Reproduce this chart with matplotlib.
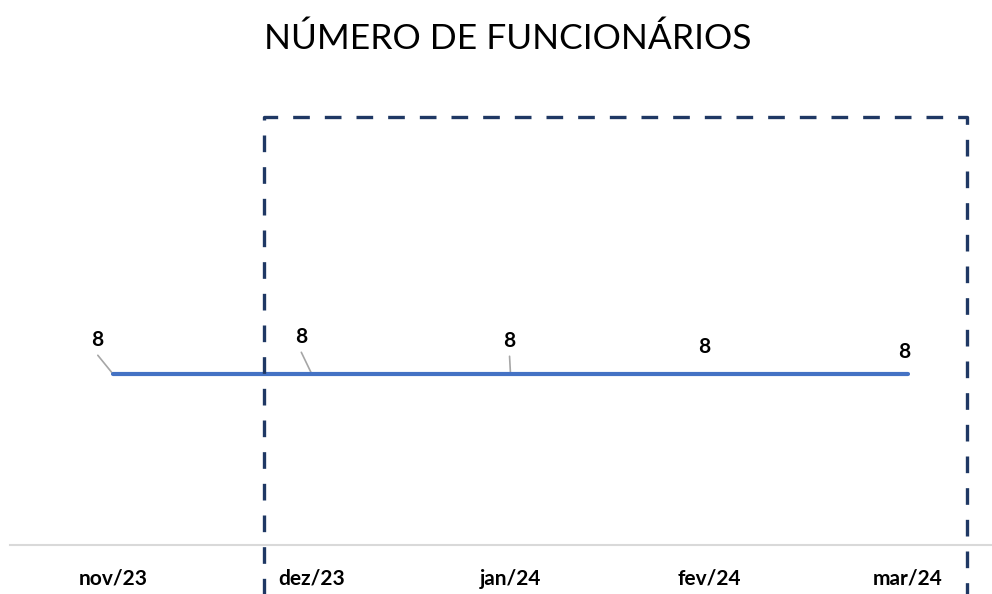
import matplotlib
matplotlib.use("Agg")
import matplotlib.pyplot as plt
from matplotlib.lines import Line2D

months = ["nov/23", "dez/23", "jan/24", "fev/24", "mar/24"]
funcionarios = [8, 8, 8, 8, 8]
title = "NÚMERO DE FUNCIONÁRIOS"

# label offsets (pixels) relative to each point, and whether a leader line is drawn
label_dx = [-16, -11, -1, -5, -4]
label_dy = [34, 37, 33, 27, 22]
leader = [True, True, True, False, False]

plt.rcParams['font.family'] = ['Lato', 'DejaVu Sans']

W, H = 992, 594
fig = plt.figure(figsize=(W / 100, H / 100), dpi=100)

# axes placement in pixels
ax_left, ax_right = 10, 992
ax_bottom_px, ax_top_px = 545, 90
ax = fig.add_axes([ax_left / W, 1 - ax_bottom_px / H,
                   (ax_right - ax_left) / W, (ax_bottom_px - ax_top_px) / H])

x = list(range(len(months)))
ax.plot(x, funcionarios, color="#4472C4", lw=3.0, solid_capstyle="round", zorder=3)

ppu = (908 - 113) / 4
ax.set_xlim(-(113 - ax_left) / ppu, 4 + (ax_right - 908) / ppu)
ypu = (545 - 374) / 8
ax.set_ylim(0, (ax_bottom_px - ax_top_px) / ypu)

for i, v in enumerate(funcionarios):
    dx, dy = label_dx[i] * 0.72, label_dy[i] * 0.72
    ax.annotate(str(v), xy=(i, v), xytext=(dx, dy), textcoords="offset points",
                ha="center", va="center", fontsize=15, fontweight="bold",
                color="#000000", zorder=4)
    if leader[i]:
        ax.annotate("", xy=(i, v), xytext=(dx * 0.95, dy - 11),
                    textcoords="offset points",
                    arrowprops=dict(arrowstyle="-", color="#A6A6A6", lw=1.2,
                                    shrinkA=0, shrinkB=0), zorder=2)

for s in ["top", "right", "left"]:
    ax.spines[s].set_visible(False)
ax.spines["bottom"].set_color("#D9D9D9")
ax.spines["bottom"].set_linewidth(1.5)
ax.set_yticks([])
ax.set_xticks(x)
ax.set_xticklabels(months, fontsize=15, fontweight="bold", color="#000000")
ax.tick_params(axis="x", length=0, pad=17)

fig.text(508 / W, 1 - 39 / H, title, ha="center", va="center", fontsize=25.5,
         color="#000000")

# dashed highlight rectangle (figure pixel coordinates)
rx0, rx1, ry0, ry1 = 264, 967, 117, 600
dash = dict(color="#1F3864", lw=2.4, linestyle=(0, (5, 4.5)), transform=fig.transFigure,
            clip_on=False, zorder=10)
xs = [rx0 / W, rx0 / W, rx1 / W, rx1 / W]
ys = [1 - ry1 / H, 1 - ry0 / H, 1 - ry0 / H, 1 - ry1 / H]
fig.add_artist(Line2D(xs, ys, **dash))

fig.savefig("out.png", dpi=100)
